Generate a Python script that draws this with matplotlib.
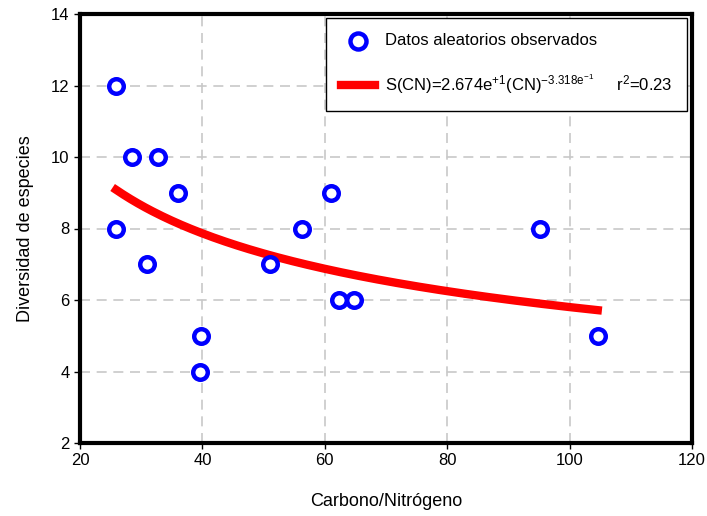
import numpy as np
import matplotlib
matplotlib.use("Agg")
import matplotlib.pyplot as plt

plt.rcParams['font.family'] = ['Liberation Sans', 'DejaVu Sans']
plt.rcParams['mathtext.fontset'] = 'custom'
plt.rcParams['mathtext.rm'] = 'Liberation Sans'
plt.rcParams['mathtext.it'] = 'Liberation Sans'
plt.rcParams['mathtext.bf'] = 'Liberation Sans:bold'
plt.rcParams['axes.unicode_minus'] = False

cn = [25.9, 28.5, 32.7, 36.0, 25.9, 30.9, 39.8, 39.6, 51.0, 56.3, 61.0, 62.3, 64.8, 95.2, 104.6]
div = [12, 10, 10, 9, 8, 7, 5, 4, 7, 8, 9, 6, 6, 8, 5]
fit_a = 26.74
fit_b = -0.3318

fig = plt.figure(figsize=(7.07, 5.16), dpi=100)
ax = fig.add_axes([80/707, 1-443/516, (692-80)/707, (443-14)/516])

xs = np.linspace(min(cn), max(cn), 200)
ax.grid(True, color='#c8c8c8', linestyle=(0, (6, 4)), linewidth=1.2)
ax.set_axisbelow(True)
ax.scatter(cn, div, s=110, facecolors='white', edgecolors='#0000ff', linewidths=3.2, zorder=3,
           label='Datos aleatorios observados')
ax.plot(xs, fit_a * xs ** fit_b, color='#ff0000', linewidth=6, zorder=2,
        label=r'S(CN)=2.674e$^{\mathrm{+1}}$(CN)$^{\mathrm{-3.318e^{-1}}}$     r$^{\mathrm{2}}$=0.23')

ax.set_xlim(20, 120)
ax.set_ylim(2, 14)
ax.set_xticks([20, 40, 60, 80, 100, 120])
ax.set_yticks([2, 4, 6, 8, 10, 12, 14])
ax.tick_params(labelsize=12, direction='out', length=4, width=1)
for s in ax.spines.values():
    s.set_linewidth(3)
ax.set_xlabel('Carbono/Nitrógeno', fontsize=13, labelpad=18)
ax.set_ylabel('Diversidad de especies', fontsize=13, labelpad=12)

leg = ax.legend(loc='upper right', bbox_to_anchor=(687/707, 1-18/516), bbox_transform=fig.transFigure,
                borderaxespad=0, fontsize=12, frameon=True,
                fancybox=False, edgecolor='black', framealpha=1, borderpad=0.9,
                labelspacing=1.45, handlelength=2.0, handletextpad=0.6, markerscale=1.1)
leg.get_frame().set_linewidth(1)
fig.savefig('out.png', dpi=100)
